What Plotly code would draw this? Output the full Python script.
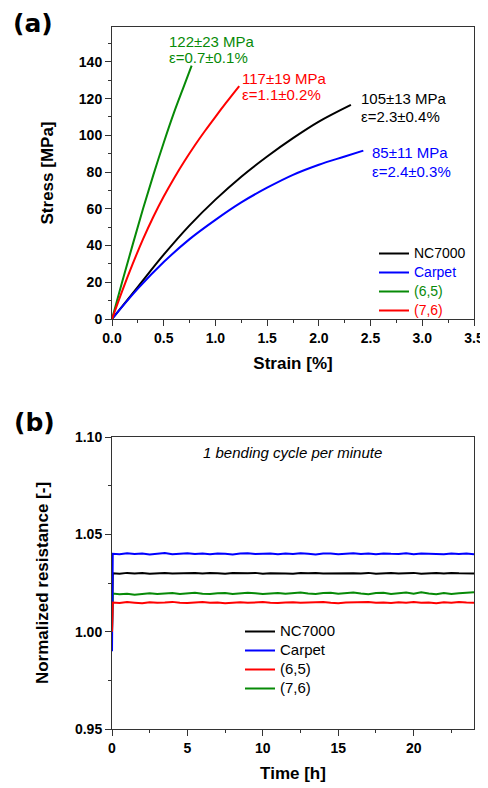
import plotly.graph_objects as go

# ---------------- Panel (a): stress-strain ----------------
nc_strain = [0, 0.25, 0.5, 0.75, 1.0, 1.25, 1.5, 1.75, 2.0, 2.31]
nc_stress = [0, 17.5, 35, 51, 65, 77.5, 88.5, 98.5, 107.5, 116.6]
carpet_strain = [0, 0.25, 0.5, 0.75, 1.0, 1.25, 1.5, 1.75, 2.0, 2.25, 2.43]
carpet_stress = [0, 16.5, 31, 43.5, 54, 63.5, 71.5, 78.5, 84, 88.5, 91.7]
c65_strain = [0, 0.1, 0.2, 0.3, 0.4, 0.5, 0.6, 0.7, 0.77]
c65_stress = [0, 20.5, 40.5, 60, 78.5, 96, 112.5, 127.5, 138]
c76_strain = [0, 0.1, 0.2, 0.3, 0.4, 0.5, 0.6, 0.7, 0.8, 0.9, 1.0, 1.1, 1.23]
c76_stress = [0, 15.5, 30, 43.5, 55.7, 66.7, 76.7, 85.9, 94.5, 102.5, 110.1, 117.5, 126.8]

names_a = ["NC7000", "Carpet", "(6,5)", "(7,6)"]
strength_labels = ["105±13 MPa", "85±11 MPa", "122±23 MPa", "117±19 MPa"]
strain_labels = ["ε=2.3±0.4%", "ε=2.4±0.3%", "ε=0.7±0.1%", "ε=1.1±0.2%"]

# ---------------- Panel (b): resistance vs time ----------------
time_h = [0, 0.05, 0.5, 1, 1.5, 2, 2.5, 3, 3.5, 4, 4.5, 5, 5.5, 6, 6.5, 7, 7.5, 8,
          8.5, 9, 9.5, 10, 10.5, 11, 11.5, 12, 12.5, 13, 13.5, 14, 14.5, 15, 15.5,
          16, 16.5, 17, 17.5, 18, 18.5, 19, 19.5, 20, 20.5, 21, 21.5, 22, 22.5,
          23, 23.5, 24]
nc_r = [1.000, 1.0300, 1.0298, 1.0302, 1.0299, 1.0301, 1.0298, 1.0300, 1.0302, 1.0299,
        1.0300, 1.0298, 1.0301, 1.0299, 1.0302, 1.0300, 1.0298, 1.0301, 1.0299, 1.0300,
        1.0302, 1.0298, 1.0300, 1.0301, 1.0299, 1.0298, 1.0301, 1.0300, 1.0302, 1.0299,
        1.0300, 1.0298, 1.0301, 1.0300, 1.0299, 1.0302, 1.0298, 1.0300, 1.0301, 1.0299,
        1.0300, 1.0302, 1.0298, 1.0300, 1.0301, 1.0299, 1.0302, 1.0300, 1.0301, 1.0299]
carpet_r = [0.990, 1.0400, 1.0398, 1.0403, 1.0399, 1.0402, 1.0397, 1.0401, 1.0404, 1.0398,
            1.0400, 1.0403, 1.0399, 1.0401, 1.0398, 1.0402, 1.0400, 1.0397, 1.0401, 1.0403,
            1.0399, 1.0400, 1.0402, 1.0398, 1.0401, 1.0399, 1.0403, 1.0400, 1.0397, 1.0401,
            1.0402, 1.0398, 1.0400, 1.0403, 1.0399, 1.0401, 1.0398, 1.0402, 1.0400, 1.0399,
            1.0403, 1.0398, 1.0401, 1.0400, 1.0402, 1.0398, 1.0401, 1.0399, 1.0402, 1.0397]
c65_r = [1.000, 1.0150, 1.0147, 1.0152, 1.0149, 1.0146, 1.0151, 1.0148, 1.0150, 1.0153,
         1.0149, 1.0147, 1.0150, 1.0152, 1.0148, 1.0150, 1.0146, 1.0149, 1.0151, 1.0148,
         1.0150, 1.0152, 1.0149, 1.0147, 1.0150, 1.0151, 1.0148, 1.0150, 1.0149, 1.0152,
         1.0148, 1.0146, 1.0150, 1.0151, 1.0149, 1.0152, 1.0148, 1.0150, 1.0147, 1.0151,
         1.0149, 1.0152, 1.0148, 1.0150, 1.0146, 1.0151, 1.0149, 1.0152, 1.0150, 1.0149]
c76_r = [1.000, 1.0196, 1.0192, 1.0195, 1.0190, 1.0194, 1.0197, 1.0193, 1.0196, 1.0198,
         1.0194, 1.0197, 1.0200, 1.0195, 1.0193, 1.0197, 1.0199, 1.0194, 1.0196, 1.0200,
         1.0197, 1.0193, 1.0196, 1.0199, 1.0195, 1.0198, 1.0201, 1.0196, 1.0193, 1.0198,
         1.0200, 1.0195, 1.0197, 1.0201, 1.0196, 1.0192, 1.0198, 1.0200, 1.0194, 1.0197,
         1.0201, 1.0195, 1.0203, 1.0196, 1.0192, 1.0199, 1.0194, 1.0197, 1.0199, 1.0202]

BLACK = "#000000"
BLUE = "#0000ff"
GREEN = "#078a07"
RED = "#ff0000"
colors_a = [BLACK, BLUE, GREEN, RED]

FONT = "Arial, 'Liberation Sans', sans-serif"

# The page body has an 8px margin, so the figure is 480x780 and every
# reference pixel position is shifted by that offset.
W, H = 480, 780
OFF = 8


def px(x):
    return (x - OFF) / W


def py(y):
    return 1 - (y - OFF) / H


fig = go.Figure()

series_a = [(nc_strain, nc_stress), (carpet_strain, carpet_stress),
            (c65_strain, c65_stress), (c76_strain, c76_stress)]
for (sx, sy), nm, col in zip(series_a, names_a, colors_a):
    fig.add_trace(go.Scatter(
        x=sx, y=sy, mode="lines", line=dict(color=col, width=2, shape="spline"),
        name=f"<span style='color:{col};font-size:14px'>{nm}</span>",
        xaxis="x", yaxis="y", legend="legend"))

# panel (b): draw order so red sits on top at t=0, legend order kept via legendrank
series_b = [("NC7000", nc_r, BLACK, 1), ("(7,6)", c76_r, GREEN, 4),
            ("Carpet", carpet_r, BLUE, 2), ("(6,5)", c65_r, RED, 3)]
for nm, vals, col, rk in series_b:
    fig.add_trace(go.Scatter(
        x=time_h, y=vals, mode="lines", line=dict(color=col, width=2),
        name=f"<span style='font-size:15px'>{nm}</span>",
        xaxis="x2", yaxis="y2", legend="legend2", legendrank=rk))

axis_common = dict(
    showline=True, linecolor="#333", linewidth=1, mirror=True,
    ticks="outside", ticklen=6, tickcolor="#333", tickwidth=1,
    showgrid=False, zeroline=False, automargin=False,
    tickfont=dict(family=FONT, size=14, color="#000", weight="bold"),
)

xd = [px(112), px(474)]

fig.update_layout(
    width=W, height=H, margin=dict(l=0, r=0, t=0, b=0),
    paper_bgcolor="white", plot_bgcolor="white",
    font=dict(family=FONT, color="#000"),
    xaxis=dict(axis_common, domain=xd, range=[0, 3.5], anchor="y",
               tickvals=[0, 0.5, 1, 1.5, 2, 2.5, 3, 3.5], tickformat=".1f",
               minor=dict(ticks="outside", ticklen=3, dtick=0.25, tickcolor="#333"),
               title=dict(text="Strain [%]", standoff=12,
                          font=dict(family=FONT, size=17, weight="bold"))),
    yaxis=dict(axis_common, domain=[py(319), py(27)], range=[0, 159], anchor="x",
               tickvals=[0, 20, 40, 60, 80, 100, 120, 140],
               minor=dict(ticks="outside", ticklen=3, dtick=10, tickcolor="#333"),
               title=dict(text="Stress [MPa]", standoff=20,
                          font=dict(family=FONT, size=17, weight="bold"))),
    xaxis2=dict(axis_common, domain=xd, range=[0, 24], anchor="y2",
                tickvals=[0, 5, 10, 15, 20],
                minor=dict(ticks="outside", ticklen=3, dtick=2.5, tickcolor="#333"),
                title=dict(text="Time [h]", standoff=12,
                           font=dict(family=FONT, size=17, weight="bold"))),
    yaxis2=dict(axis_common, domain=[py(729), py(437)], range=[0.95, 1.10],
                anchor="x2", tickvals=[0.95, 1.00, 1.05, 1.10], tickformat=".2f",
                minor=dict(ticks="outside", ticklen=3, dtick=0.025, tickcolor="#333"),
                title=dict(text="Normalized resistance [-]", standoff=22,
                           font=dict(family=FONT, size=17, weight="bold"))),
    legend=dict(x=px(374), y=py(239), xanchor="left", yanchor="top",
                bgcolor="rgba(0,0,0,0)", borderwidth=0, itemwidth=30,
                tracegroupgap=0, font=dict(family=FONT, size=12)),
    legend2=dict(x=px(240), y=py(617), xanchor="left", yanchor="top",
                 bgcolor="rgba(0,0,0,0)", borderwidth=0, itemwidth=30,
                 tracegroupgap=0, font=dict(family=FONT, size=12, color="#000")),
    showlegend=True,
)

# value annotations in panel (a)
ann_pos = [  # (left x px, y px of strength line, y px of strain line)
    (359, 98.7, 117),
    (370, 152, 171),
    (167, 41.3, 57.5),
    (240, 78, 94),
]
anns = []
for (lx, y1, y2), s1, s2, col in zip(ann_pos, strength_labels, strain_labels, colors_a):
    for yy, txt in ((y1, s1), (y2, s2)):
        anns.append(dict(x=px(lx), y=py(yy), xref="paper", yref="paper",
                         xanchor="left", yanchor="middle", showarrow=False, text=txt,
                         font=dict(family=FONT, size=15, color=col)))

anns.append(dict(x=px(33), y=py(23), xref="paper", yref="paper", showarrow=False,
                 text="(a)", xanchor="center", yanchor="middle",
                 font=dict(family="DejaVu Sans", size=25, weight="bold", color="#000")))
anns.append(dict(x=px(34), y=py(422), xref="paper", yref="paper", showarrow=False,
                 text="(b)", xanchor="center", yanchor="middle",
                 font=dict(family="DejaVu Sans", size=25, weight="bold", color="#000")))
anns.append(dict(x=px(292), y=py(452), xref="paper", yref="paper", showarrow=False,
                 text="<i>1 bending cycle per minute</i>", xanchor="center",
                 yanchor="middle", font=dict(family=FONT, size=15, color="#000")))

fig.update_layout(annotations=anns)

fig.write_html("out.html")
